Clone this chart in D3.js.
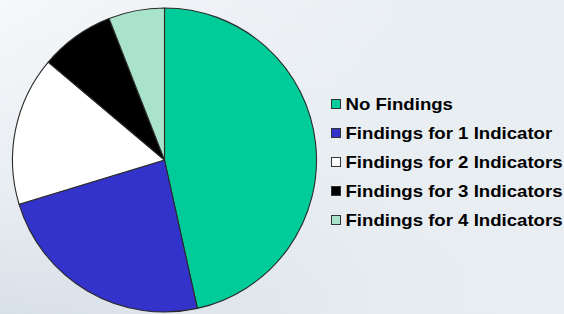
<!DOCTYPE html>
<html>
<head>
<meta charset="utf-8">
<script src="https://cdn.jsdelivr.net/npm/d3@7"></script>
<style>
  body { margin: 0; }
  svg { display: block; }
</style>
</head>
<body>
<script>
// findings per facility
var categories = ["No Findings", "Findings for 1 Indicator", "Findings for 2 Indicators",
                  "Findings for 3 Indicators", "Findings for 4 Indicators"];
var counts = [47, 24, 16, 8, 6];
var colors = ["#00cc99", "#3333cc", "#ffffff", "#000000", "#aae3cc"];

var width = 564, height = 314;
var cx = 164.5, cy = 160, radius = 152;

var svg = d3.select("body").append("svg")
    .attr("width", width)
    .attr("height", height);

var defs = svg.append("defs");
var bg = defs.append("linearGradient")
    .attr("id", "bg")
    .attr("x1", 0).attr("y1", 0)
    .attr("x2", 0.25).attr("y2", 1);
bg.append("stop").attr("offset", "0%").attr("stop-color", "#f6f8fb");
bg.append("stop").attr("offset", "55%").attr("stop-color", "#e9eef2");
bg.append("stop").attr("offset", "100%").attr("stop-color", "#d6dee6");

var bg2 = defs.append("linearGradient")
    .attr("id", "bg2")
    .attr("x1", 0).attr("y1", 0)
    .attr("x2", 1).attr("y2", 0);
bg2.append("stop").attr("offset", "0%").attr("stop-color", "#e9eef2").attr("stop-opacity", 0);
bg2.append("stop").attr("offset", "70%").attr("stop-color", "#e9eef2").attr("stop-opacity", 0.9);
bg2.append("stop").attr("offset", "100%").attr("stop-color", "#e9eef2").attr("stop-opacity", 1);

svg.append("rect").attr("width", width).attr("height", height).attr("fill", "url(#bg)");
svg.append("rect").attr("width", width).attr("height", height).attr("fill", "url(#bg2)");

var color = d3.scaleOrdinal().domain(categories).range(colors);

var pie = d3.pie().sort(null).value(function(d) { return d.value; });
var arc = d3.arc().innerRadius(0).outerRadius(radius);

var data = categories.map(function(c, i) { return {name: c, value: counts[i]}; });

var g = svg.append("g")
    .attr("transform", "translate(" + cx + "," + cy + ")");

g.selectAll("path")
    .data(pie(data))
  .enter().append("path")
    .attr("d", arc)
    .attr("fill", function(d) { return color(d.data.name); })
    .attr("stroke", "#2a2a2a")
    .attr("stroke-width", 1.1)
    .attr("stroke-linejoin", "round");

var legend = svg.selectAll(".legend")
    .data(categories)
  .enter().append("g")
    .attr("class", "legend")
    .attr("transform", function(d, i) { return "translate(331," + (99 + i * 29) + ")"; });

legend.append("rect")
    .attr("x", 0.5)
    .attr("y", 0.5)
    .attr("width", 9)
    .attr("height", 9)
    .attr("fill", color)
    .attr("stroke", "#333333")
    .attr("stroke-width", 1);

// reference glyphs are a bit wider than Liberation Sans Bold, so stretch horizontally
legend.append("text")
    .attr("transform", "translate(14.5,11) scale(1.095,1)")
    .attr("font-family", "Liberation Sans, Arial, sans-serif")
    .attr("font-weight", "bold")
    .attr("font-size", "17px")
    .attr("fill", "#000")
    .text(function(d) { return d; });
</script>
</body>
</html>
